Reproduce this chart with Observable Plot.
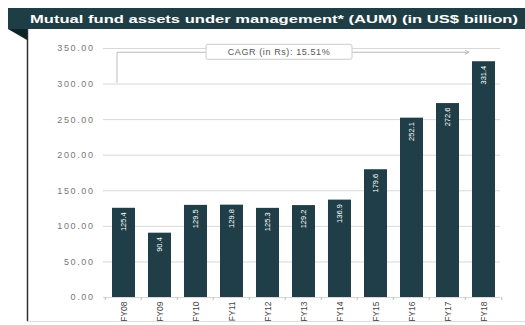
<!DOCTYPE html>
<html>
<head>
<meta charset="utf-8">
<script src="https://cdn.jsdelivr.net/npm/d3@7"></script>
<script src="https://cdn.jsdelivr.net/npm/@observablehq/plot@0.6"></script>
<style>
  html, body { margin: 0; padding: 0; background: #fff; }
  #chart svg { display: block; }
</style>
</head>
<body>
<div id="chart"></div>
<script>
const title = "Mutual fund assets under management* (AUM) (in US$ billion)";
const years = ["FY08","FY09","FY10","FY11","FY12","FY13","FY14","FY15","FY16","FY17","FY18"];
const aum = [125.4, 90.4, 129.5, 129.8, 125.3, 129.2, 136.9, 179.6, 252.1, 272.6, 331.4];
const yTicks = [0, 50, 100, 150, 200, 250, 300, 350];
const cagrLabel = "CAGR (in Rs): 15.51%";
const bracketFrom = 301, bracketTo = 344;

const data = years.map((y, i) => ({year: y, value: aum[i]}));
const barColor = "#1f3e47";
const pad = 0.37;

const plot = Plot.plot({
  width: 525,
  height: 325,
  marginLeft: 103,
  marginRight: 25,
  marginTop: 48,
  marginBottom: 28,
  style: {background: "transparent", fontFamily: "Liberation Sans, Arial, sans-serif", overflow: "visible"},
  x: {domain: years, padding: pad, range: [96, 510], label: null},
  y: {domain: [0, 350], label: null},
  marks: [
    Plot.gridY(yTicks, {stroke: "#d8d8d8", strokeOpacity: 1, strokeWidth: 1}),
    Plot.axisY(yTicks, {tickFormat: d => d.toFixed(2), tickSize: 0, tickPadding: 9, fontSize: 9, fill: "#777", label: null}),
    Plot.axisX({tickRotate: -90, tickSize: 0, tickPadding: 4, fontSize: 8.5, fill: "#444", label: null}),
    Plot.barY(data, {x: "year", y: "value", fill: barColor}),
    Plot.text(data, {x: "year", y: "value", text: d => d.value.toFixed(1), rotate: -90, textAnchor: "end", dy: 4, fill: "#fff", fontSize: 7.5})
  ]
});

const svg = d3.select(plot);
svg.selectAll("[aria-label='y-axis tick label'] text").attr("letter-spacing", 1.6);

const xs = plot.scale("x"), ys = plot.scale("y");
const bw = xs.bandwidth;
const step = bw / (1 - pad);
const xOf = v => xs.apply(v);
const yOf = v => ys.apply(v);

// background frame (header band, fold, panel borders)
const bg = svg.insert("g", ":first-child");
bg.append("rect").attr("x", 27).attr("y", 29).attr("width", 498).attr("height", 292).attr("fill", "#fff");
bg.append("line").attr("x1", 27.5).attr("x2", 27.5).attr("y1", 29).attr("y2", 321).attr("stroke", "#333").attr("stroke-width", 1.5);
bg.append("line").attr("x1", 27).attr("x2", 525).attr("y1", 321.5).attr("y2", 321.5).attr("stroke", "#ddd");
bg.append("rect").attr("x", 8).attr("y", 8).attr("width", 517).attr("height", 21).attr("fill", "#1e3d45");
bg.append("path").attr("d", "M8,29 L27,29 L27,40 Z").attr("fill", "#0f2429");
bg.append("text").attr("x", 30).attr("y", 22.5).attr("fill", "#fff").attr("text-anchor", "start")
  .attr("font-family", "Liberation Sans, Arial, sans-serif").attr("font-weight", "bold").attr("font-size", 11)
  .attr("textLength", 488).attr("lengthAdjust", "spacingAndGlyphs").text(title);

// small ticks at band boundaries
const tg = svg.append("g").attr("stroke", "#bbb");
for (let i = 0; i <= years.length; i++) {
  const bx = (i < years.length ? xOf(years[i]) : xOf(years[years.length - 1]) + step) - (step - bw) / 2;
  tg.append("line").attr("x1", bx).attr("x2", bx).attr("y1", yOf(0)).attr("y2", yOf(0) + 3);
}

// CAGR bracket
const ann = svg.append("g");
const bx0 = xOf(years[0]) + 5;
const bx1 = xOf(years[9]) + bw + 10;
ann.append("line").attr("x1", bx0).attr("x2", bx0).attr("y1", yOf(bracketFrom)).attr("y2", yOf(bracketTo)).attr("stroke", "#bbb");
ann.append("line").attr("x1", bx0).attr("x2", bx1).attr("y1", yOf(bracketTo)).attr("y2", yOf(bracketTo)).attr("stroke", "#bbb");
ann.append("path").attr("d", `M${bx1-4},${yOf(bracketTo)-2} L${bx1},${yOf(bracketTo)} L${bx1-4},${yOf(bracketTo)+2}`).attr("fill", "none").attr("stroke", "#bbb");
const cx = xOf(years[4]) + bw;
ann.append("rect").attr("x", cx - 73).attr("y", yOf(bracketTo) - 8).attr("width", 146).attr("height", 15).attr("rx", 2)
  .attr("fill", "#fff").attr("stroke", "#ccc");
ann.append("text").attr("x", cx).attr("y", yOf(bracketTo) + 3).attr("text-anchor", "middle")
  .attr("font-family", "Liberation Sans, Arial, sans-serif").attr("font-size", 9).attr("fill", "#555")
  .attr("letter-spacing", 0.6).text(cagrLabel);

document.getElementById("chart").append(plot);
</script>
</body>
</html>
